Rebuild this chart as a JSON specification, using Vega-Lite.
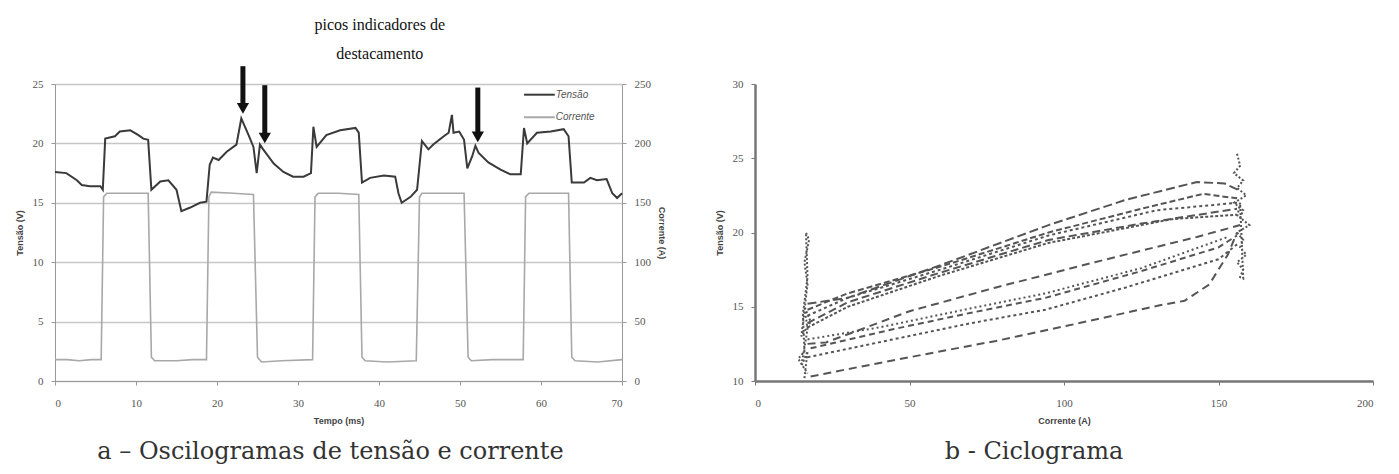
{
  "$schema": "https://vega.github.io/schema/vega-lite/v6.json",
  "background": "white",
  "padding": {"left": 15, "top": 16, "right": 5, "bottom": 5},
  "bounds": "flush",
  "spacing": 133,
  "config": {
    "view": {"stroke": null},
    "axis": {"labelFont": "Liberation Serif", "labelFontSize": 11, "labelColor": "#555", "titleFont": "Liberation Sans", "titleFontSize": 9, "titleFontWeight": "bold", "titleColor": "#444", "domainColor": "#999", "tickColor": "#999", "tickSize": 4, "labelPadding": 8}
  },
  "datasets": {
    "osc": [
      {"serie": "Tensão", "t": 0, "v": 17.6}, {"serie": "Tensão", "t": 1.4, "v": 17.5}, {"serie": "Tensão", "t": 2.7, "v": 16.9}, {"serie": "Tensão", "t": 3.3, "v": 16.5}, {"serie": "Tensão", "t": 4.3, "v": 16.4}, {"serie": "Tensão", "t": 5.6, "v": 16.4}, {"serie": "Tensão", "t": 5.9, "v": 16.1}, {"serie": "Tensão", "t": 6.2, "v": 20.4}, {"serie": "Tensão", "t": 7.4, "v": 20.6}, {"serie": "Tensão", "t": 8.0, "v": 21.0}, {"serie": "Tensão", "t": 9.3, "v": 21.1}, {"serie": "Tensão", "t": 10.3, "v": 20.7}, {"serie": "Tensão", "t": 10.9, "v": 20.4}, {"serie": "Tensão", "t": 11.5, "v": 20.3}, {"serie": "Tensão", "t": 11.9, "v": 16.1}, {"serie": "Tensão", "t": 13.0, "v": 16.8}, {"serie": "Tensão", "t": 14.0, "v": 16.9}, {"serie": "Tensão", "t": 15.0, "v": 16.1}, {"serie": "Tensão", "t": 15.6, "v": 14.3}, {"serie": "Tensão", "t": 16.7, "v": 14.6}, {"serie": "Tensão", "t": 17.9, "v": 15.0}, {"serie": "Tensão", "t": 18.7, "v": 15.1}, {"serie": "Tensão", "t": 19.1, "v": 18.2}, {"serie": "Tensão", "t": 19.5, "v": 18.8}, {"serie": "Tensão", "t": 20.2, "v": 18.6}, {"serie": "Tensão", "t": 21.2, "v": 19.3}, {"serie": "Tensão", "t": 22.4, "v": 19.9}, {"serie": "Tensão", "t": 23.0, "v": 22.1}, {"serie": "Tensão", "t": 23.9, "v": 20.7}, {"serie": "Tensão", "t": 24.5, "v": 19.7}, {"serie": "Tensão", "t": 24.9, "v": 17.5}, {"serie": "Tensão", "t": 25.3, "v": 19.9}, {"serie": "Tensão", "t": 25.7, "v": 19.5}, {"serie": "Tensão", "t": 27.0, "v": 18.3}, {"serie": "Tensão", "t": 28.2, "v": 17.6}, {"serie": "Tensão", "t": 29.4, "v": 17.2}, {"serie": "Tensão", "t": 30.7, "v": 17.2}, {"serie": "Tensão", "t": 31.6, "v": 17.5}, {"serie": "Tensão", "t": 31.9, "v": 21.4}, {"serie": "Tensão", "t": 32.3, "v": 19.7}, {"serie": "Tensão", "t": 33.5, "v": 20.7}, {"serie": "Tensão", "t": 35.2, "v": 21.1}, {"serie": "Tensão", "t": 37.1, "v": 21.3}, {"serie": "Tensão", "t": 37.5, "v": 20.9}, {"serie": "Tensão", "t": 37.9, "v": 16.7}, {"serie": "Tensão", "t": 38.9, "v": 17.1}, {"serie": "Tensão", "t": 40.6, "v": 17.3}, {"serie": "Tensão", "t": 42.0, "v": 17.2}, {"serie": "Tensão", "t": 42.4, "v": 15.8}, {"serie": "Tensão", "t": 42.8, "v": 15.0}, {"serie": "Tensão", "t": 43.9, "v": 15.5}, {"serie": "Tensão", "t": 44.7, "v": 16.1}, {"serie": "Tensão", "t": 45.3, "v": 20.2}, {"serie": "Tensão", "t": 46.1, "v": 19.5}, {"serie": "Tensão", "t": 46.7, "v": 19.9}, {"serie": "Tensão", "t": 48.0, "v": 20.6}, {"serie": "Tensão", "t": 48.6, "v": 20.9}, {"serie": "Tensão", "t": 49.0, "v": 22.4}, {"serie": "Tensão", "t": 49.2, "v": 20.9}, {"serie": "Tensão", "t": 49.9, "v": 21.0}, {"serie": "Tensão", "t": 50.5, "v": 20.3}, {"serie": "Tensão", "t": 50.9, "v": 17.9}, {"serie": "Tensão", "t": 51.5, "v": 18.9}, {"serie": "Tensão", "t": 51.9, "v": 19.8}, {"serie": "Tensão", "t": 52.3, "v": 19.2}, {"serie": "Tensão", "t": 53.5, "v": 18.4}, {"serie": "Tensão", "t": 55.0, "v": 17.8}, {"serie": "Tensão", "t": 56.2, "v": 17.4}, {"serie": "Tensão", "t": 57.5, "v": 17.4}, {"serie": "Tensão", "t": 57.9, "v": 21.3}, {"serie": "Tensão", "t": 58.3, "v": 20.0}, {"serie": "Tensão", "t": 59.5, "v": 20.9}, {"serie": "Tensão", "t": 61.2, "v": 21.0}, {"serie": "Tensão", "t": 62.8, "v": 21.2}, {"serie": "Tensão", "t": 63.4, "v": 20.6}, {"serie": "Tensão", "t": 63.8, "v": 16.7}, {"serie": "Tensão", "t": 65.3, "v": 16.7}, {"serie": "Tensão", "t": 66.1, "v": 17.1}, {"serie": "Tensão", "t": 66.9, "v": 16.9}, {"serie": "Tensão", "t": 68.1, "v": 17.0}, {"serie": "Tensão", "t": 68.8, "v": 15.8}, {"serie": "Tensão", "t": 69.4, "v": 15.4}, {"serie": "Tensão", "t": 70, "v": 15.8},
      {"serie": "Corrente", "t": 0, "v": 18}, {"serie": "Corrente", "t": 1.5, "v": 18}, {"serie": "Corrente", "t": 3, "v": 17}, {"serie": "Corrente", "t": 4.5, "v": 18}, {"serie": "Corrente", "t": 5.7, "v": 18}, {"serie": "Corrente", "t": 6.0, "v": 155}, {"serie": "Corrente", "t": 6.4, "v": 158}, {"serie": "Corrente", "t": 9, "v": 158}, {"serie": "Corrente", "t": 11.5, "v": 158}, {"serie": "Corrente", "t": 11.9, "v": 20}, {"serie": "Corrente", "t": 12.3, "v": 17}, {"serie": "Corrente", "t": 15, "v": 17}, {"serie": "Corrente", "t": 17, "v": 18}, {"serie": "Corrente", "t": 18.7, "v": 18}, {"serie": "Corrente", "t": 19.0, "v": 155}, {"serie": "Corrente", "t": 19.3, "v": 159}, {"serie": "Corrente", "t": 22, "v": 158}, {"serie": "Corrente", "t": 24.5, "v": 157}, {"serie": "Corrente", "t": 25.0, "v": 20}, {"serie": "Corrente", "t": 25.5, "v": 16}, {"serie": "Corrente", "t": 28, "v": 17}, {"serie": "Corrente", "t": 31.8, "v": 18}, {"serie": "Corrente", "t": 32.1, "v": 155}, {"serie": "Corrente", "t": 32.5, "v": 158}, {"serie": "Corrente", "t": 35, "v": 158}, {"serie": "Corrente", "t": 37.5, "v": 157}, {"serie": "Corrente", "t": 37.9, "v": 20}, {"serie": "Corrente", "t": 38.3, "v": 17}, {"serie": "Corrente", "t": 41, "v": 16}, {"serie": "Corrente", "t": 44.6, "v": 17}, {"serie": "Corrente", "t": 45.0, "v": 155}, {"serie": "Corrente", "t": 45.3, "v": 158}, {"serie": "Corrente", "t": 48, "v": 158}, {"serie": "Corrente", "t": 50.5, "v": 158}, {"serie": "Corrente", "t": 51.0, "v": 20}, {"serie": "Corrente", "t": 51.4, "v": 17}, {"serie": "Corrente", "t": 54, "v": 18}, {"serie": "Corrente", "t": 57.8, "v": 18}, {"serie": "Corrente", "t": 58.1, "v": 155}, {"serie": "Corrente", "t": 58.5, "v": 158}, {"serie": "Corrente", "t": 61, "v": 158}, {"serie": "Corrente", "t": 63.4, "v": 158}, {"serie": "Corrente", "t": 63.8, "v": 20}, {"serie": "Corrente", "t": 64.2, "v": 17}, {"serie": "Corrente", "t": 67, "v": 16}, {"serie": "Corrente", "t": 70, "v": 18}
    ],
    "legenda": [
      {"serie": "Tensão", "t1": 57.9, "t2": 61.7, "v": 24.1},
      {"serie": "Corrente", "t1": 57.9, "t2": 61.7, "v": 22.2}
    ],
    "arrows": [
      {"t": 23.2, "top": 26.5, "shaft": 23.2, "head": 22.95},
      {"t": 25.9, "top": 24.9, "shaft": 20.7, "head": 20.45},
      {"t": 52.2, "top": 24.7, "shaft": 20.8, "head": 20.55}
    ],
    "notes": [
      {"t": 40.1, "v": 30.0, "label": "picos indicadores de"},
      {"t": 40.1, "v": 27.5, "label": "destacamento"}
    ],
    "ciclo": [
      {"c": "L1", "i": 0, "a": 17, "v": 15.2}, {"c": "L1", "i": 1, "a": 30, "v": 15.6}, {"c": "L1", "i": 2, "a": 60, "v": 17.8}, {"c": "L1", "i": 3, "a": 95, "v": 20.5}, {"c": "L1", "i": 4, "a": 120, "v": 22.2}, {"c": "L1", "i": 5, "a": 143, "v": 23.4}, {"c": "L1", "i": 6, "a": 152, "v": 23.3}, {"c": "L1", "i": 7, "a": 157, "v": 22.8},
      {"c": "L2", "i": 0, "a": 17, "v": 14.8}, {"c": "L2", "i": 1, "a": 30, "v": 15.9}, {"c": "L2", "i": 2, "a": 60, "v": 17.7}, {"c": "L2", "i": 3, "a": 95, "v": 20.0}, {"c": "L2", "i": 4, "a": 125, "v": 21.6}, {"c": "L2", "i": 5, "a": 145, "v": 22.6}, {"c": "L2", "i": 6, "a": 156, "v": 22.3},
      {"c": "L3", "i": 0, "a": 17, "v": 14.4}, {"c": "L3", "i": 1, "a": 30, "v": 15.6}, {"c": "L3", "i": 2, "a": 60, "v": 17.5}, {"c": "L3", "i": 3, "a": 95, "v": 19.8}, {"c": "L3", "i": 4, "a": 130, "v": 21.5}, {"c": "L3", "i": 5, "a": 156, "v": 22.0},
      {"c": "L4", "i": 0, "a": 17, "v": 13.9}, {"c": "L4", "i": 1, "a": 30, "v": 15.3}, {"c": "L4", "i": 2, "a": 60, "v": 17.3}, {"c": "L4", "i": 3, "a": 95, "v": 19.5}, {"c": "L4", "i": 4, "a": 125, "v": 20.6}, {"c": "L4", "i": 5, "a": 156, "v": 21.6},
      {"c": "L5", "i": 0, "a": 17, "v": 13.6}, {"c": "L5", "i": 1, "a": 30, "v": 15.0}, {"c": "L5", "i": 2, "a": 60, "v": 17.1}, {"c": "L5", "i": 3, "a": 95, "v": 19.3}, {"c": "L5", "i": 4, "a": 135, "v": 20.9}, {"c": "L5", "i": 5, "a": 156, "v": 21.2},
      {"c": "L6", "i": 0, "a": 17, "v": 12.5}, {"c": "L6", "i": 1, "a": 23, "v": 12.6}, {"c": "L6", "i": 2, "a": 50, "v": 14.7}, {"c": "L6", "i": 3, "a": 78, "v": 16.3}, {"c": "L6", "i": 4, "a": 110, "v": 18.0}, {"c": "L6", "i": 5, "a": 143, "v": 19.7}, {"c": "L6", "i": 6, "a": 157, "v": 20.5},
      {"c": "L7", "i": 0, "a": 17, "v": 12.8}, {"c": "L7", "i": 1, "a": 40, "v": 13.6}, {"c": "L7", "i": 2, "a": 70, "v": 14.9}, {"c": "L7", "i": 3, "a": 94, "v": 15.9}, {"c": "L7", "i": 4, "a": 125, "v": 17.6}, {"c": "L7", "i": 5, "a": 153, "v": 19.7},
      {"c": "L8", "i": 0, "a": 18, "v": 10.3}, {"c": "L8", "i": 1, "a": 30, "v": 10.8}, {"c": "L8", "i": 2, "a": 55, "v": 11.8}, {"c": "L8", "i": 3, "a": 78, "v": 12.7}, {"c": "L8", "i": 4, "a": 105, "v": 13.9}, {"c": "L8", "i": 5, "a": 131, "v": 15.1}, {"c": "L8", "i": 6, "a": 139, "v": 15.4}, {"c": "L8", "i": 7, "a": 147, "v": 16.5}, {"c": "L8", "i": 8, "a": 153, "v": 18.5}, {"c": "L8", "i": 9, "a": 156, "v": 20.0},
      {"c": "L9", "i": 0, "a": 18, "v": 12.2}, {"c": "L9", "i": 1, "a": 45, "v": 13.5}, {"c": "L9", "i": 2, "a": 70, "v": 14.6}, {"c": "L9", "i": 3, "a": 94, "v": 15.6}, {"c": "L9", "i": 4, "a": 125, "v": 17.4}, {"c": "L9", "i": 5, "a": 150, "v": 19.0}, {"c": "L9", "i": 6, "a": 156, "v": 19.8},
      {"c": "L10", "i": 0, "a": 17, "v": 11.6}, {"c": "L10", "i": 1, "a": 40, "v": 12.6}, {"c": "L10", "i": 2, "a": 70, "v": 13.9}, {"c": "L10", "i": 3, "a": 94, "v": 14.8}, {"c": "L10", "i": 4, "a": 120, "v": 16.3}, {"c": "L10", "i": 5, "a": 150, "v": 18.2}, {"c": "L10", "i": 6, "a": 156, "v": 19.2},
      {"c": "LC", "i": 0, "a": 16, "v": 10.2}, {"c": "LC", "i": 1, "a": 17, "v": 12}, {"c": "LC", "i": 2, "a": 15, "v": 11}, {"c": "LC", "i": 3, "a": 17, "v": 13.5}, {"c": "LC", "i": 4, "a": 16, "v": 15}, {"c": "LC", "i": 5, "a": 18, "v": 14}, {"c": "LC", "i": 6, "a": 15, "v": 13}, {"c": "LC", "i": 7, "a": 17, "v": 16.5}, {"c": "LC", "i": 8, "a": 16, "v": 18}, {"c": "LC", "i": 9, "a": 17.5, "v": 19.5}, {"c": "LC", "i": 10, "a": 16.5, "v": 20}, {"c": "LC", "i": 11, "a": 17, "v": 17}, {"c": "LC", "i": 12, "a": 15.5, "v": 14.5}, {"c": "LC", "i": 13, "a": 16, "v": 12}, {"c": "LC", "i": 14, "a": 14, "v": 11.5}, {"c": "LC", "i": 15, "a": 17, "v": 10.5},
      {"c": "HC", "i": 0, "a": 156, "v": 25.3}, {"c": "HC", "i": 1, "a": 157, "v": 24.5}, {"c": "HC", "i": 2, "a": 155, "v": 24}, {"c": "HC", "i": 3, "a": 158, "v": 23.5}, {"c": "HC", "i": 4, "a": 156, "v": 23}, {"c": "HC", "i": 5, "a": 159, "v": 22.5}, {"c": "HC", "i": 6, "a": 155, "v": 22}, {"c": "HC", "i": 7, "a": 158, "v": 21.5}, {"c": "HC", "i": 8, "a": 157, "v": 21}, {"c": "HC", "i": 9, "a": 160, "v": 20.5}, {"c": "HC", "i": 10, "a": 156, "v": 20}, {"c": "HC", "i": 11, "a": 158, "v": 19.5}, {"c": "HC", "i": 12, "a": 157, "v": 19}, {"c": "HC", "i": 13, "a": 159, "v": 18.5}, {"c": "HC", "i": 14, "a": 156, "v": 18}, {"c": "HC", "i": 15, "a": 158, "v": 17.5}, {"c": "HC", "i": 16, "a": 157, "v": 17}, {"c": "HC", "i": 17, "a": 158, "v": 16.9}, {"c": "HC", "i": 18, "a": 157, "v": 22}, {"c": "HC", "i": 19, "a": 156, "v": 21}
    ]
  },
  "hconcat": [
    {
      "width": 567,
      "height": 297,
      "title": {"text": "a – Oscilogramas de tensão e corrente", "orient": "bottom", "anchor": "middle", "font": "DejaVu Serif", "fontSize": 24, "fontWeight": "normal", "color": "#333", "offset": 15, "dx": -8},
      "layer": [
        {
          "layer": [
            {
              "data": {"name": "osc"},
              "transform": [{"filter": "datum.serie === 'Tensão'"}],
              "mark": {"type": "line", "strokeWidth": 2, "color": "#3a3a3a"},
              "encoding": {
                "x": {"field": "t", "type": "quantitative", "title": "Tempo (ms)", "scale": {"domain": [0, 70]}, "axis": {"values": [0, 10, 20, 30, 40, 50, 60, 70], "grid": false, "titlePadding": 8, "labelPadding": 12}},
                "y": {"field": "v", "type": "quantitative", "title": "Tensão (V)", "scale": {"domain": [0, 25]}, "axis": {"values": [0, 5, 10, 15, 20, 25], "grid": true, "gridColor": "#c6c6c6", "gridWidth": 1.5, "titlePadding": 8}}
              }
            },
            {
              "data": {"name": "legenda"},
              "mark": {"type": "rule", "strokeWidth": 2},
              "encoding": {
                "x": {"field": "t1", "type": "quantitative", "title": "Tempo (ms)", "scale": {"domain": [0, 70]}},
                "x2": {"field": "t2"},
                "y": {"field": "v", "type": "quantitative", "title": "Tensão (V)", "scale": {"domain": [0, 25]}},
                "color": {"field": "serie", "type": "nominal", "scale": {"domain": ["Tensão", "Corrente"], "range": ["#3a3a3a", "#a8a8a8"]}, "legend": null}
              }
            },
            {
              "data": {"name": "legenda"},
              "mark": {"type": "text", "align": "left", "baseline": "middle", "dx": 1, "font": "Liberation Sans", "fontSize": 10, "fontStyle": "italic", "color": "#555"},
              "encoding": {
                "x": {"field": "t2", "type": "quantitative", "title": "Tempo (ms)", "scale": {"domain": [0, 70]}},
                "y": {"field": "v", "type": "quantitative", "title": "Tensão (V)", "scale": {"domain": [0, 25]}},
                "text": {"field": "serie"}
              }
            },
            {
              "data": {"name": "arrows"},
              "mark": {"type": "rule", "color": "#111", "strokeWidth": 5},
              "encoding": {
                "x": {"field": "t", "type": "quantitative", "title": "Tempo (ms)", "scale": {"domain": [0, 70]}},
                "y": {"field": "top", "type": "quantitative", "title": "Tensão (V)", "scale": {"domain": [0, 25]}},
                "y2": {"field": "shaft"}
              }
            },
            {
              "data": {"name": "arrows"},
              "mark": {"type": "point", "shape": "triangle-down", "filled": true, "color": "#111", "size": 150, "opacity": 1},
              "encoding": {
                "x": {"field": "t", "type": "quantitative", "title": "Tempo (ms)", "scale": {"domain": [0, 70]}},
                "y": {"field": "head", "type": "quantitative", "title": "Tensão (V)", "scale": {"domain": [0, 25]}}
              }
            },
            {
              "data": {"name": "notes"},
              "mark": {"type": "text", "font": "Liberation Serif", "fontSize": 16, "color": "#111", "align": "center", "baseline": "middle"},
              "encoding": {
                "x": {"field": "t", "type": "quantitative", "title": "Tempo (ms)", "scale": {"domain": [0, 70]}},
                "y": {"field": "v", "type": "quantitative", "title": "Tensão (V)", "scale": {"domain": [0, 25]}},
                "text": {"field": "label"}
              }
            }
          ]
        },
        {
          "data": {"name": "osc"},
          "transform": [{"filter": "datum.serie === 'Corrente'"}],
          "mark": {"type": "line", "strokeWidth": 1.6, "color": "#a8a8a8"},
          "encoding": {
            "x": {"field": "t", "type": "quantitative", "title": "Tempo (ms)", "scale": {"domain": [0, 70]}},
            "y": {"field": "v", "type": "quantitative", "title": "Corrente (A)", "scale": {"domain": [0, 250]}, "axis": {"orient": "right", "values": [0, 50, 100, 150, 200, 250], "grid": false, "titlePadding": 6}}
          }
        }
      ],
      "resolve": {"scale": {"y": "independent"}}
    },
    {
      "width": 618,
      "height": 297,
      "title": {"text": "b - Ciclograma", "orient": "bottom", "anchor": "middle", "font": "DejaVu Serif", "fontSize": 24, "fontWeight": "normal", "color": "#333", "offset": 15, "dx": -30},
      "layer": [
        {
          "mark": {"type": "rule", "color": "#777", "strokeWidth": 2},
          "encoding": {"y": {"datum": 15, "type": "quantitative", "scale": {"domain": [10, 30]}}}
        },
        {
          "data": {"name": "ciclo"},
          "mark": {"type": "line", "strokeWidth": 2, "color": "#555"},
          "encoding": {
            "x": {"field": "a", "type": "quantitative", "title": "Corrente (A)", "scale": {"domain": [0, 200]}, "axis": {"values": [0, 50, 100, 150, 200], "grid": false, "domainColor": "#777", "domainWidth": 2.5, "tickColor": "#777", "titlePadding": 8, "labelPadding": 12}},
            "y": {"field": "v", "type": "quantitative", "title": "Tensão (V)", "scale": {"domain": [10, 30]}, "axis": {"values": [10, 15, 20, 25, 30], "grid": false, "domainColor": "#777", "domainWidth": 2.5, "tickColor": "#777", "titlePadding": 8}},
            "detail": {"field": "c", "type": "nominal"},
            "order": {"field": "i", "type": "quantitative"},
            "strokeDash": {"field": "c", "type": "nominal", "scale": {"domain": ["L1", "L2", "L3", "L4", "L5", "L6", "L7", "L8", "L9", "L10", "LC", "HC"], "range": [[9, 4], [6, 3], [3, 3], [8, 4], [3, 2], [8, 5], [2, 3], [8, 5], [6, 4], [3, 3], [2, 2], [2, 2]]}, "legend": null}
          }
        }
      ]
    }
  ]
}
